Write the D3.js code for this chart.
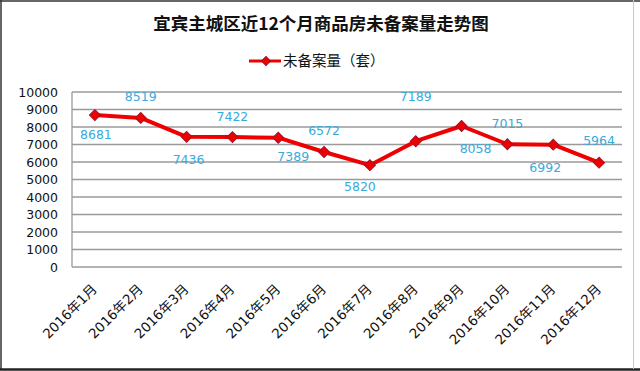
<!DOCTYPE html>
<html><head><meta charset="utf-8">
<script src="https://cdn.jsdelivr.net/npm/d3@7"></script>
<style>html,body{margin:0;padding:0;background:#fff;}svg{display:block;}</style>
</head><body>
<svg id="c" width="640" height="371"></svg>
<script>
const titleText = "宜宾主城区近12个月商品房未备案量走势图";
const seriesName = "未备案量（套）";
const months = ["2016年1月","2016年2月","2016年3月","2016年4月","2016年5月","2016年6月","2016年7月","2016年8月","2016年9月","2016年10月","2016年11月","2016年12月"];
const values = [8681, 8519, 7436, 7422, 7389, 6572, 5820, 7189, 8058, 7015, 6992, 5964];
const yTicks = [0,1000,2000,3000,4000,5000,6000,7000,8000,9000,10000];
// label placement (layout only)
const labelDx = [1, 0, 2, 0, 15, 0, -10, 0, 14, 0, -8, 0];
const labelDy = [20, -21, 23, -20, 19, -21, 21, -45, 23, -21, 23, -22];

const svg = d3.select("#c");
const W = 640, H = 371;
const m = {left:72, right:622, top:92, bottom:267};
const font = "'DejaVu Sans','Noto Sans CJK SC',sans-serif";

// frame
svg.append("rect").attr("x",0).attr("y",0).attr("width",W).attr("height",H).attr("fill","#fff");
svg.append("line").attr("x1",0).attr("x2",W).attr("y1",1).attr("y2",1).attr("stroke","#333").attr("stroke-width",1.5);
svg.append("line").attr("x1",1).attr("x2",1).attr("y1",0).attr("y2",370).attr("stroke","#333").attr("stroke-width",1.5);
svg.append("line").attr("x1",0).attr("x2",W).attr("y1",369.5).attr("y2",369.5).attr("stroke","#222").attr("stroke-width",2.5);
svg.append("line").attr("x1",633.5).attr("x2",633.5).attr("y1",0).attr("y2",369).attr("stroke","#c8c8c8").attr("stroke-width",1);

const x = d3.scaleBand().domain(months).range([m.left, m.right]);
const y = d3.scaleLinear().domain([0,10000]).range([m.bottom, m.top]);

// gridlines
svg.append("g").selectAll("line").data(yTicks).join("line")
  .attr("x1",m.left).attr("x2",m.right)
  .attr("y1",d=>y(d)).attr("y2",d=>y(d))
  .attr("stroke","#9a9a9a").attr("stroke-width",1.3);
svg.append("line").attr("x1",m.left).attr("x2",m.left).attr("y1",m.top).attr("y2",m.bottom)
  .attr("stroke","#9a9a9a").attr("stroke-width",1.3);

// y axis
const yAxis = d3.axisLeft(y).tickValues(yTicks).tickSize(0).tickPadding(14).tickFormat(d3.format("d"));
const gy = svg.append("g").attr("transform",`translate(${m.left},0)`).call(yAxis);
gy.select(".domain").remove();
gy.selectAll("text").attr("font-family",font).attr("font-size","12.5px").attr("fill","#111");

// x axis
const xAxis = d3.axisBottom(x).tickSize(0).tickPadding(0);
const gx = svg.append("g").attr("transform",`translate(0,${m.bottom})`).call(xAxis);
gx.select(".domain").remove();
gx.selectAll("text")
  .attr("font-family",font).attr("font-size","13.5px").attr("fill","#111")
  .attr("text-anchor","end").attr("dy",null).attr("y",0)
  .attr("transform","translate(3,23) rotate(-45)");

// line
const line = d3.line().x((d,i)=>x(months[i])+x.bandwidth()/2).y(d=>y(d));
svg.append("path").datum(values).attr("d",line).attr("fill","none")
  .attr("stroke","#ee0000").attr("stroke-width",4).attr("stroke-linejoin","round");

// markers
svg.append("g").selectAll("path").data(values).join("path")
  .attr("d", d3.symbol().type(d3.symbolSquare).size(60))
  .attr("transform",(d,i)=>`translate(${x(months[i])+x.bandwidth()/2},${y(d)}) rotate(45)`)
  .attr("fill","#ee0000").attr("stroke","#a0102a").attr("stroke-width",1);

// data labels
svg.append("g").selectAll("text").data(values).join("text")
  .attr("x",(d,i)=>x(months[i])+x.bandwidth()/2+labelDx[i])
  .attr("y",(d,i)=>y(d)+labelDy[i])
  .attr("dy","0.35em").attr("text-anchor","middle")
  .attr("font-family",font).attr("font-size","12.5px").attr("fill","#36abdc")
  .text(d=>d);

// title
svg.append("text").attr("x",321).attr("y",30).attr("text-anchor","middle")
  .attr("font-family","'Noto Sans CJK SC',sans-serif").attr("font-weight","bold").attr("font-size","17.5px")
  .attr("fill","#111").text(titleText);

// legend
const ly = 61;
svg.append("line").attr("x1",249).attr("x2",281).attr("y1",ly).attr("y2",ly).attr("stroke","#ee0000").attr("stroke-width",3);
svg.append("path").attr("d", d3.symbol().type(d3.symbolSquare).size(40)())
  .attr("transform",`translate(266,${ly}) rotate(45)`).attr("fill","#ee0000").attr("stroke","#a0102a").attr("stroke-width",1);
svg.append("text").attr("x",283).attr("y",ly).attr("dy","0.35em")
  .attr("font-family","'Noto Sans CJK SC',sans-serif").attr("font-size","14.5px").attr("fill","#111")
  .text(seriesName);
</script>
</body></html>
